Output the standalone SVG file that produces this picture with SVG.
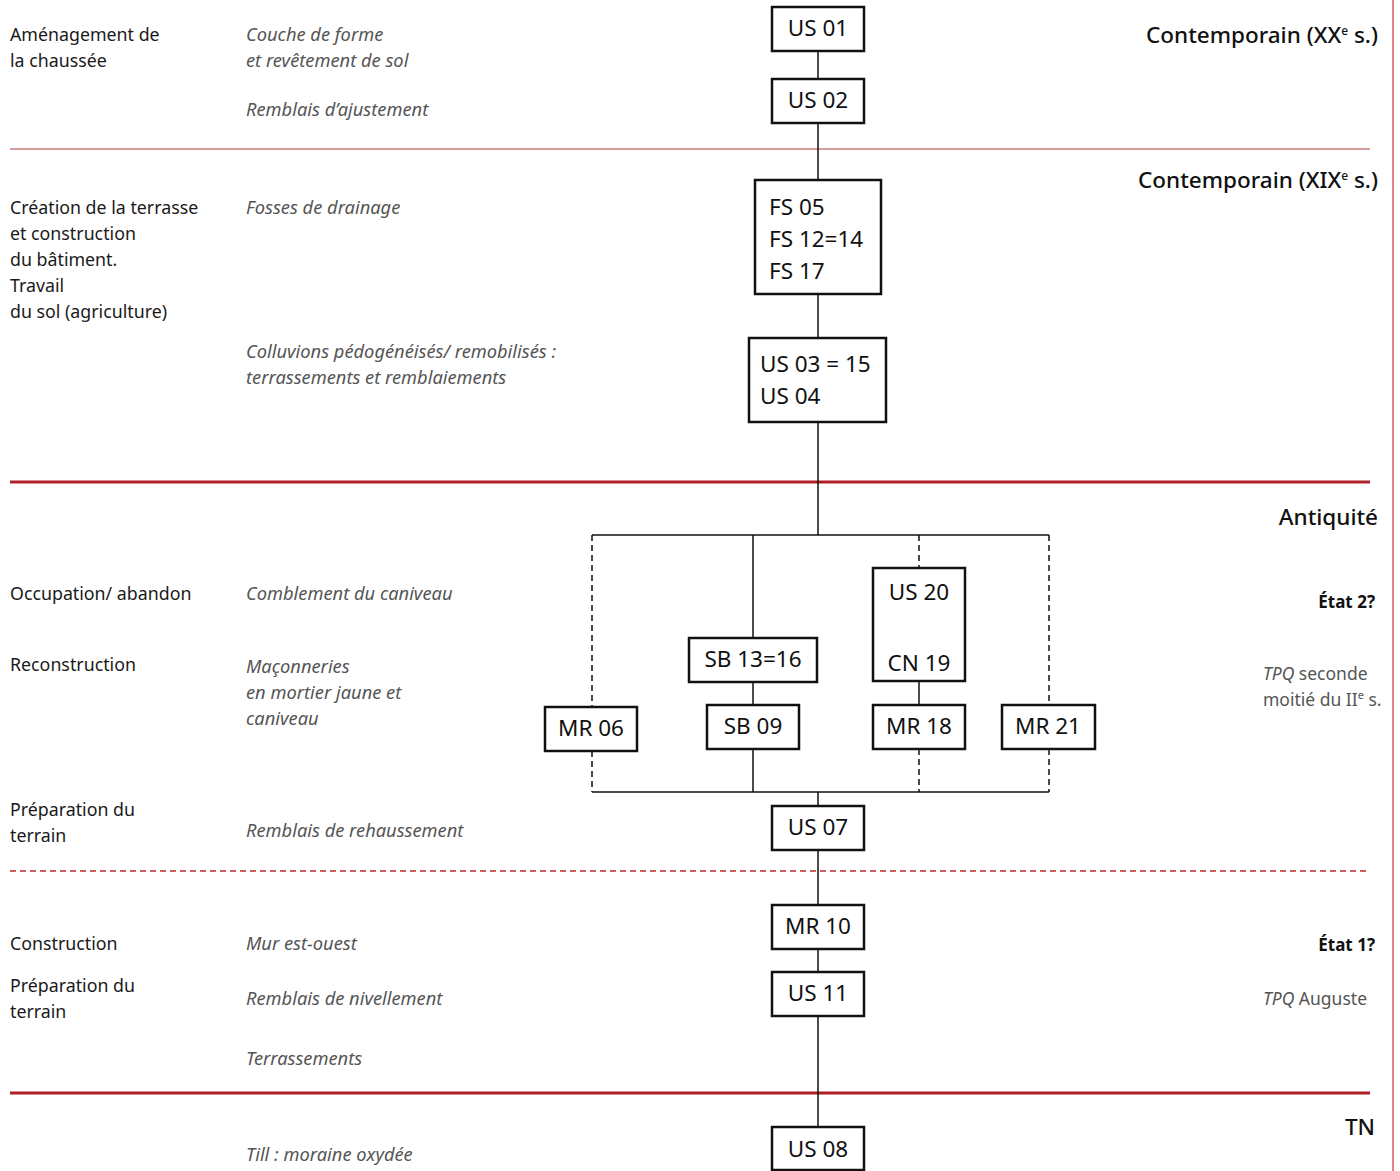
<svg xmlns="http://www.w3.org/2000/svg" width="1400" height="1171" viewBox="0 0 1400 1171">
<style>
.box{fill:#fff;stroke:#111;stroke-width:2.5}
.bt{font-family:"Noto Sans","Open Sans",sans-serif;font-size:22.5px;fill:#111}
.l{font-family:"Noto Sans","Open Sans",sans-serif;font-size:17.8px;fill:#1a1a1a}
.i{font-family:"Noto Sans","Open Sans",sans-serif;font-size:18.3px;font-style:italic;fill:#555}
.h{font-family:"Noto Sans","Open Sans",sans-serif;font-size:22.5px;font-weight:500;fill:#111;text-anchor:end}
.e{font-family:"Noto Sans","Open Sans",sans-serif;font-size:17px;font-weight:bold;fill:#111;text-anchor:end}
.g{font-family:"Noto Sans","Open Sans",sans-serif;font-size:17.5px;fill:#555}
.c{stroke:#111;stroke-width:1.5;fill:none}
.d{stroke:#111;stroke-width:1.5;fill:none;stroke-dasharray:6 4}
</style>
<rect width="1400" height="1171" fill="#fff"/>
<g id="separators">
<line x1="1393" y1="0" x2="1393" y2="1171" stroke="#e05a5a" stroke-width="1.5"/>
<line x1="10" y1="149" x2="1370" y2="149" stroke="#c87a7a" stroke-width="1.5"/>
<line x1="10" y1="482" x2="1370" y2="482" stroke="#b01e26" stroke-width="3"/>
<line x1="10" y1="871" x2="1370" y2="871" stroke="#c0282e" stroke-width="1.5" stroke-dasharray="6 4"/>
<line x1="10" y1="1093" x2="1370" y2="1093" stroke="#b01e26" stroke-width="3"/>
</g>
<g id="connectors">
<line class="c" x1="818" y1="51" x2="818" y2="79"/>
<line class="c" x1="818" y1="123" x2="818" y2="180"/>
<line class="c" x1="818" y1="294" x2="818" y2="338"/>
<line class="c" x1="818" y1="422" x2="818" y2="535"/>
<line class="c" x1="592" y1="535" x2="1049" y2="535"/>
<line class="c" x1="592" y1="792" x2="1049" y2="792"/>
<line class="d" x1="592" y1="535" x2="592" y2="707"/>
<line class="d" x1="592" y1="751" x2="592" y2="792"/>
<line class="c" x1="753" y1="535" x2="753" y2="638"/>
<line class="c" x1="753" y1="682" x2="753" y2="705"/>
<line class="c" x1="753" y1="749" x2="753" y2="792"/>
<line class="d" x1="919" y1="535" x2="919" y2="568"/>
<line class="c" x1="919" y1="681" x2="919" y2="705"/>
<line class="d" x1="919" y1="749" x2="919" y2="792"/>
<line class="d" x1="1049" y1="535" x2="1049" y2="705"/>
<line class="d" x1="1049" y1="749" x2="1049" y2="792"/>
<line class="c" x1="818" y1="792" x2="818" y2="806"/>
<line class="c" x1="818" y1="850" x2="818" y2="905"/>
<line class="c" x1="818" y1="949" x2="818" y2="972"/>
<line class="c" x1="818" y1="1016" x2="818" y2="1127"/>
</g>
<g id="US01"><rect class="box" x="772" y="7" width="92" height="44"/><text class="bt" x="818" y="36" text-anchor="middle">US 01</text></g>
<g id="US02"><rect class="box" x="772" y="79" width="92" height="44"/><text class="bt" x="818" y="108" text-anchor="middle">US 02</text></g>
<g id="FS"><rect class="box" x="755" y="180" width="126" height="114"/><text class="bt" x="769" y="215">FS 05</text><text class="bt" x="769" y="247">FS 12=14</text><text class="bt" x="769" y="279">FS 17</text></g>
<g id="US03"><rect class="box" x="749" y="338" width="137" height="84"/><text class="bt" x="760" y="372">US 03 = 15</text><text class="bt" x="760" y="404">US 04</text></g>
<g id="MR06"><rect class="box" x="545" y="707" width="92" height="44"/><text class="bt" x="591" y="736" text-anchor="middle">MR 06</text></g>
<g id="SB13"><rect class="box" x="689" y="638" width="128" height="44"/><text class="bt" x="753" y="667" text-anchor="middle">SB 13=16</text></g>
<g id="SB09"><rect class="box" x="707" y="705" width="92" height="44"/><text class="bt" x="753" y="734" text-anchor="middle">SB 09</text></g>
<g id="US20"><rect class="box" x="873" y="568" width="92" height="113"/><text class="bt" x="919" y="600" text-anchor="middle">US 20</text><text class="bt" x="919" y="671" text-anchor="middle">CN 19</text></g>
<g id="MR18"><rect class="box" x="873" y="705" width="92" height="44"/><text class="bt" x="919" y="734" text-anchor="middle">MR 18</text></g>
<g id="MR21"><rect class="box" x="1002" y="705" width="93" height="44"/><text class="bt" x="1048" y="734" text-anchor="middle">MR 21</text></g>
<g id="US07"><rect class="box" x="772" y="806" width="92" height="44"/><text class="bt" x="818" y="835" text-anchor="middle">US 07</text></g>
<g id="MR10"><rect class="box" x="772" y="905" width="92" height="44"/><text class="bt" x="818" y="934" text-anchor="middle">MR 10</text></g>
<g id="US11"><rect class="box" x="772" y="972" width="92" height="44"/><text class="bt" x="818" y="1001" text-anchor="middle">US 11</text></g>
<g id="US08"><rect class="box" x="772" y="1127" width="92" height="43"/><text class="bt" x="818" y="1157" text-anchor="middle">US 08</text></g>
<g id="left-labels">
<text class="l" x="10" y="41">Aménagement de</text>
<text class="l" x="10" y="67">la chaussée</text>
<text class="l" x="10" y="214">Création de la terrasse</text>
<text class="l" x="10" y="240">et construction</text>
<text class="l" x="10" y="266">du bâtiment.</text>
<text class="l" x="10" y="292">Travail</text>
<text class="l" x="10" y="318">du sol (agriculture)</text>
<text class="l" x="10" y="600">Occupation/ abandon</text>
<text class="l" x="10" y="671">Reconstruction</text>
<text class="l" x="10" y="816">Préparation du</text>
<text class="l" x="10" y="842">terrain</text>
<text class="l" x="10" y="950">Construction</text>
<text class="l" x="10" y="992">Préparation du</text>
<text class="l" x="10" y="1018">terrain</text>
</g>
<g id="descriptions">
<text class="i" x="246" y="41">Couche de forme</text>
<text class="i" x="246" y="67">et revêtement de sol</text>
<text class="i" x="246" y="116">Remblais d’ajustement</text>
<text class="i" x="246" y="214">Fosses de drainage</text>
<text class="i" x="246" y="358">Colluvions pédogénéisés/ remobilisés :</text>
<text class="i" x="246" y="384">terrassements et remblaiements</text>
<text class="i" x="246" y="600">Comblement du caniveau</text>
<text class="i" x="246" y="673">Maçonneries</text>
<text class="i" x="246" y="699">en mortier jaune et</text>
<text class="i" x="246" y="725">caniveau</text>
<text class="i" x="246" y="837">Remblais de rehaussement</text>
<text class="i" x="246" y="950">Mur est-ouest</text>
<text class="i" x="246" y="1005">Remblais de nivellement</text>
<text class="i" x="246" y="1065">Terrassements</text>
<text class="i" x="246" y="1161">Till : moraine oxydée</text>
</g>
<g id="periods">
<text class="h" x="1378" y="43">Contemporain (XX<tspan font-size="12" dy="-8">e</tspan><tspan dy="8"> s.)</tspan></text>
<text class="h" x="1378" y="188">Contemporain (XIX<tspan font-size="12" dy="-8">e</tspan><tspan dy="8"> s.)</tspan></text>
<text class="h" x="1378" y="525">Antiquité</text>
<text class="e" x="1375" y="608">État 2?</text>
<text class="g" x="1263" y="680"><tspan font-style="italic">TPQ</tspan> seconde</text>
<text class="g" x="1263" y="706">moitié du II<tspan font-size="11" dy="-7">e</tspan><tspan dy="7"> s.</tspan></text>
<text class="e" x="1375" y="951">État 1?</text>
<text class="g" x="1263" y="1005"><tspan font-style="italic">TPQ</tspan> Auguste</text>
<text class="h" x="1375" y="1135">TN</text>
</g>
</svg>
